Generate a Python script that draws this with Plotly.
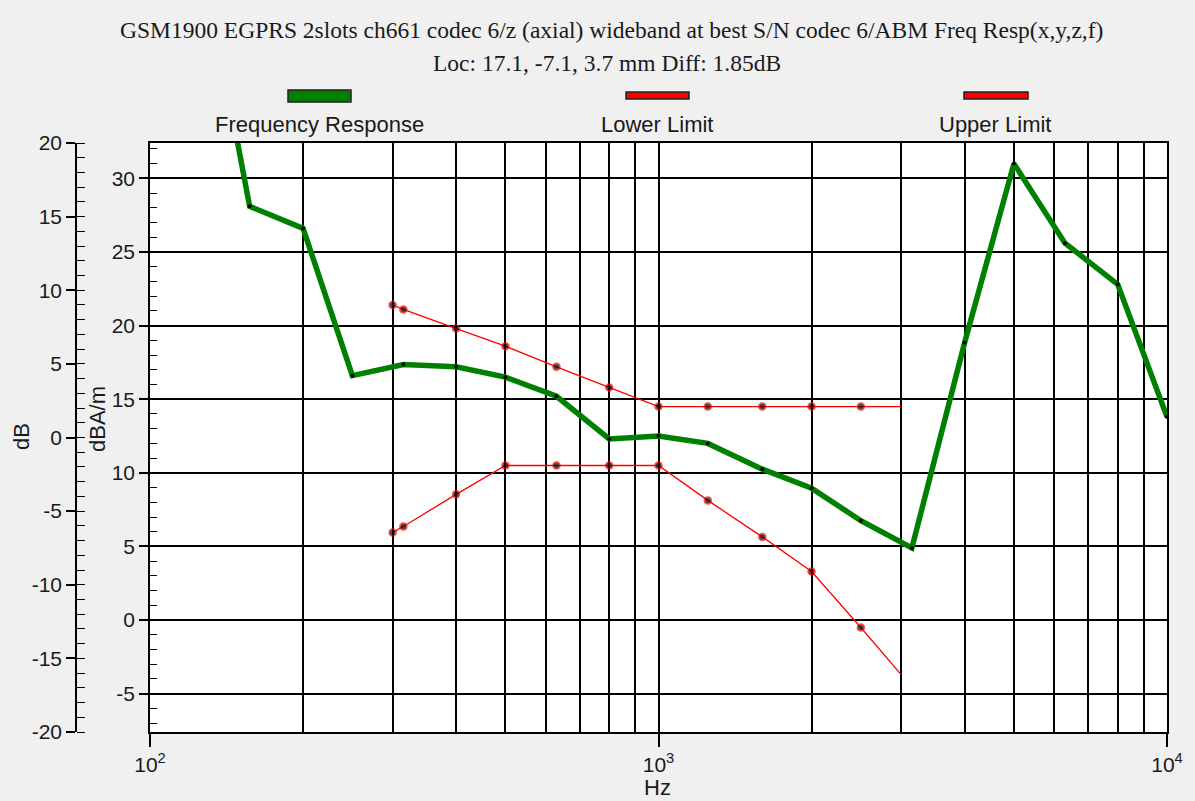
import plotly.graph_objects as go

W, H = 1195, 801

# Measured frequency response (third-octave bands), dBA/m
resp_freq = [125, 157, 200, 250, 315, 400, 500, 630, 800, 1000, 1250, 1600,
             2000, 2500, 3150, 4000, 5000, 6300, 8000, 10000]
resp_val = [46.2, 28.1, 26.6, 16.6, 17.35, 17.2, 16.5, 15.2, 12.3, 12.5, 12.0,
            10.25, 8.96, 6.75, 4.9, 18.85, 31.0, 25.6, 22.8, 13.8]

# Tolerance mask, dBA/m
lim_freq = [300, 315, 400, 500, 630, 800, 1000, 1250, 1600, 2000, 2500, 3000]
upper_val = [21.4, 21.1, 19.8, 18.6, 17.2, 15.8, 14.5, 14.5, 14.5, 14.5, 14.5, 14.5]
lower_val = [5.95, 6.36, 8.54, 10.5, 10.5, 10.5, 10.5, 8.13, 5.65, 3.3, -0.5, -3.7]

x_major = [100, 1000, 10000]
x_major_text = ["10<sup>2</sup>", "10<sup>3</sup>", "10<sup>4</sup>"]
x_minor = [m * d for d in (100, 1000) for m in range(2, 10)]

y_ticks = [-5, 0, 5, 10, 15, 20, 25, 30]           # dBA/m
y2_ticks = [-20, -15, -10, -5, 0, 5, 10, 15, 20]   # dB

title = "GSM1900 EGPRS 2slots ch661 codec 6/z (axial) wideband at best S/N codec 6/ABM Freq Resp(x,y,z,f)"
subtitle = "Loc: 17.1, -7.1, 3.7 mm Diff: 1.85dB"
legend_names = ["Frequency Response", "Lower Limit", "Upper Limit"]

GREEN = "#008000"
RED = "#ff0000"
TXT = "#1a1a1a"
SANS = "Liberation Sans, Arial, sans-serif"
SERIF = "Liberation Serif, Times New Roman, serif"


def px(x):
    return x / W


def py(y):
    return 1 - y / H


plot_left, plot_right, plot_top, plot_bottom = 150, 1167, 143, 732

fig = go.Figure()

fig.add_trace(go.Scatter(
    x=resp_freq, y=resp_val, mode="lines+markers",
    line=dict(color=GREEN, width=5.5),
    marker=dict(color="black", size=4),
    showlegend=False, hoverinfo="x+y"))

lim_sizes = [7] * (len(lim_freq) - 1) + [0]
for vals in (lower_val, upper_val):
    fig.add_trace(go.Scatter(
        x=lim_freq, y=vals, mode="lines+markers",
        line=dict(color=RED, width=1.3),
        marker=dict(color="black", size=lim_sizes, line=dict(color=RED, width=1.5)),
        showlegend=False, hoverinfo="x+y"))

# keeps the secondary dB axis alive
fig.add_trace(go.Scatter(x=[None], y=[None], yaxis="y2", showlegend=False,
                         hoverinfo="skip"))

ydom = [py(plot_bottom), py(plot_top)]
tickfont = dict(family=SANS, size=21, color=TXT)


def fmt(v):
    return str(v).replace("\u2212", "-")


fig.update_layout(
    width=W, height=H,
    margin=dict(l=0, r=0, t=0, b=0),
    paper_bgcolor="#f0f0f0",
    plot_bgcolor="white",
    showlegend=False,
    xaxis=dict(
        type="log", range=[2, 4], domain=[px(plot_left), px(plot_right)],
        anchor="y", automargin=False,
        tickmode="array", tickvals=x_major, ticktext=x_major_text,
        ticks="outside", ticklen=13, tickwidth=1.5, tickcolor="black",
        tickfont=tickfont,
        showgrid=True, gridcolor="black", gridwidth=1.5,
        minor=dict(tickmode="array", tickvals=x_minor, showgrid=True,
                   gridcolor="black", gridwidth=1.5, ticks=""),
        showline=True, linecolor="black", linewidth=1.5, mirror=True,
        zeroline=False,
    ),
    yaxis=dict(
        range=[-7.6, 32.4], domain=ydom, anchor="x", automargin=False,
        tickmode="array", tickvals=y_ticks, ticktext=[fmt(v) for v in y_ticks],
        ticks="outside", ticklen=9, tickwidth=1.5, tickcolor="black",
        tickfont=tickfont,
        showgrid=True, gridcolor="black", gridwidth=1.5,
        minor=dict(dtick=1, tick0=0, ticks="inside", ticklen=7,
                   tickcolor="black", tickwidth=1.2, showgrid=False),
        showline=True, linecolor="black", linewidth=1.5, mirror=True,
        zeroline=False,
    ),
    yaxis2=dict(
        range=[-20, 20], domain=ydom, overlaying="y", anchor="free",
        position=px(76), side="left", automargin=False,
        tickmode="array", tickvals=y2_ticks, ticktext=[fmt(v) for v in y2_ticks],
        ticks="outside", ticklen=9, tickwidth=1.5, tickcolor="black",
        tickfont=tickfont,
        showgrid=False, zeroline=False,
        minor=dict(dtick=1, tick0=0, ticks="inside", ticklen=8,
                   tickcolor="black", tickwidth=1.2),
        showline=True, linecolor="black", linewidth=1.5,
    ),
)

annotations = [
    dict(text=title, x=px(611), y=py(30), font=dict(family=SERIF, size=23.5, color=TXT)),
    dict(text=subtitle, x=px(607), y=py(63), font=dict(family=SERIF, size=23.5, color=TXT)),
    dict(text="dB", x=px(21), y=py(437), textangle=-90, font=dict(family=SANS, size=22, color=TXT)),
    dict(text="dBA/m", x=px(98), y=py(419), textangle=-90, font=dict(family=SANS, size=22, color=TXT)),
    dict(text="Hz", x=px(657), y=py(787), font=dict(family=SANS, size=22, color=TXT)),
]
label_x = [319, 657, 995]
for name, lx in zip(legend_names, label_x):
    annotations.append(dict(text=name, x=px(lx), y=py(125),
                            font=dict(family=SANS, size=22, color=TXT)))
for a in annotations:
    a.update(xref="paper", yref="paper", showarrow=False,
             xanchor="center", yanchor="middle")
fig.update_layout(annotations=annotations)

# legend swatches
swatches = [(288, 351, 90, 102, GREEN), (626, 689, 92, 99, RED), (964, 1028, 92, 99, RED)]
shapes = []
for x0, x1, y0, y1, col in swatches:
    shapes.append(dict(type="rect", xref="paper", yref="paper",
                       x0=px(x0), x1=px(x1), y0=py(y1), y1=py(y0),
                       fillcolor=col, line=dict(color="#222", width=1.5)))
fig.update_layout(shapes=shapes)

fig.write_html("out.html")
